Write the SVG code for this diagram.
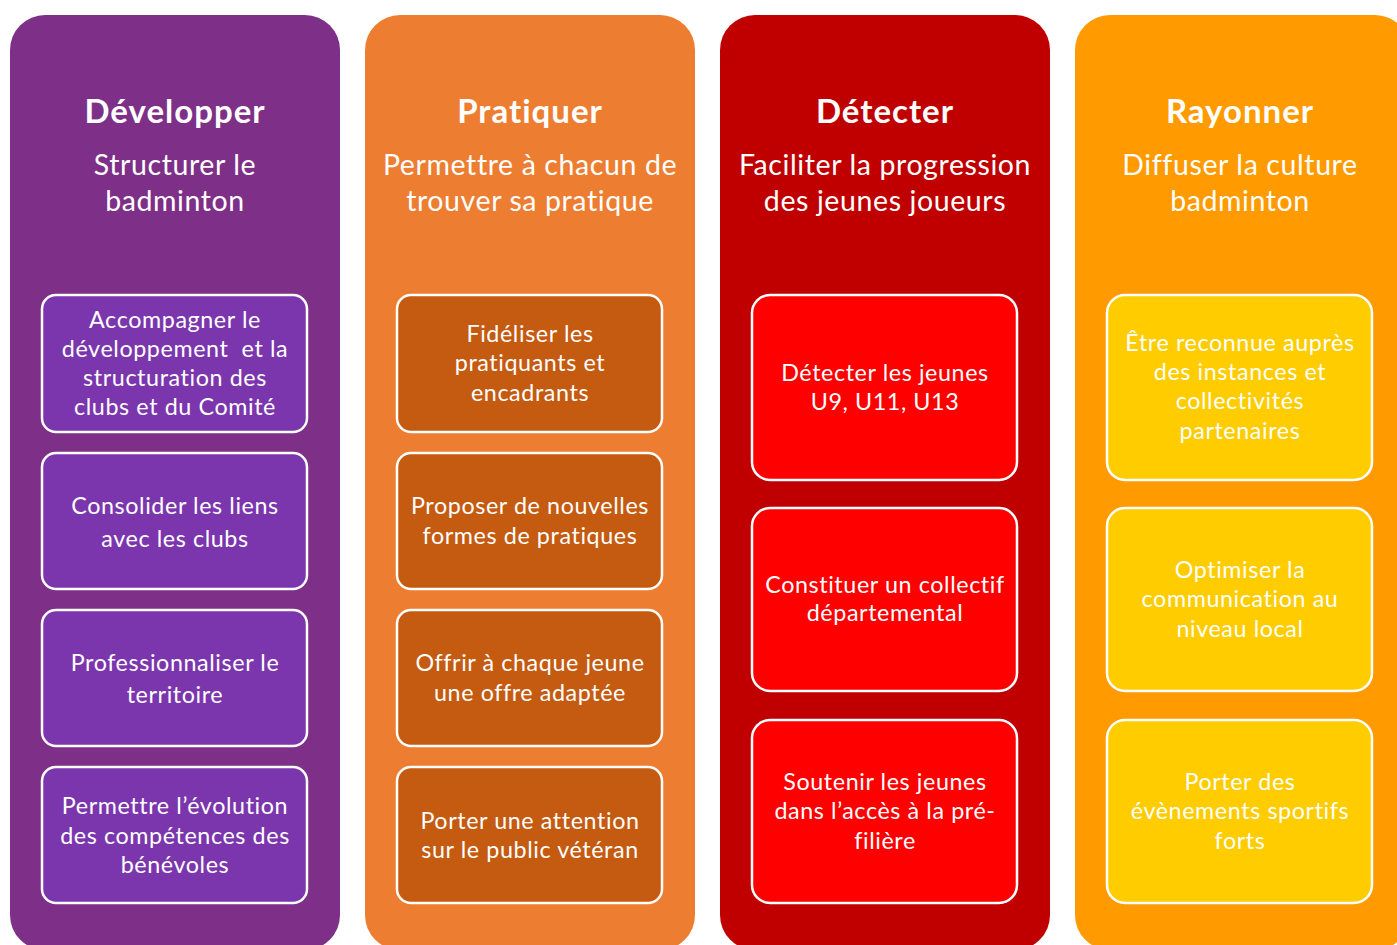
<svg xmlns="http://www.w3.org/2000/svg" width="1397" height="945" viewBox="0 0 1397 945">
<style>
text{font-family:Lato,"Open Sans","Liberation Sans",sans-serif;fill:#fff;text-anchor:middle}
.t{font-size:33px;font-weight:bold;letter-spacing:1px}
.s{font-size:28.5px;letter-spacing:0.6px}
.b{font-size:23.3px;letter-spacing:0.6px}
.box{stroke:#fff;stroke-width:2.5}
</style>
<rect width="1397" height="945" fill="#fff"/>
<g id="col-developper">
<rect x="10" y="15" width="330" height="935" rx="35" fill="#7E2F87"/>
<text class="t" x="175" y="123">Développer</text>
<text class="s" x="175" y="175">Structurer le</text>
<text class="s" x="175" y="211">badminton</text>
</g>
<g id="col-pratiquer">
<rect x="365" y="15" width="330" height="935" rx="35" fill="#ED7D31"/>
<text class="t" x="530" y="123">Pratiquer</text>
<text class="s" x="530" y="175">Permettre à chacun de</text>
<text class="s" x="530" y="211">trouver sa pratique</text>
</g>
<g id="col-detecter">
<rect x="720" y="15" width="330" height="935" rx="35" fill="#C00000"/>
<text class="t" x="885" y="123">Détecter</text>
<text class="s" x="885" y="175">Faciliter la progression</text>
<text class="s" x="885" y="211">des jeunes joueurs</text>
</g>
<g id="col-rayonner">
<rect x="1075" y="15" width="335" height="935" rx="35" fill="#FF9A00"/>
<text class="t" x="1240" y="123">Rayonner</text>
<text class="s" x="1240" y="175">Diffuser la culture</text>
<text class="s" x="1240" y="211">badminton</text>
</g>
<g id="d1"><rect class="box" x="42" y="295" width="265" height="137" rx="14" fill="#7B36AE"/>
<text class="b" x="175" y="328">Accompagner le</text><text class="b" x="175" y="357">développement&#160; et la</text><text class="b" x="175" y="386">structuration des</text><text class="b" x="175" y="415">clubs et du Comité</text></g>
<g id="d2"><rect class="box" x="42" y="453" width="265" height="136" rx="14" fill="#7B36AE"/>
<text class="b" x="175" y="514">Consolider les liens</text><text class="b" x="175" y="547">avec les clubs</text></g>
<g id="d3"><rect class="box" x="42" y="610" width="265" height="136" rx="14" fill="#7B36AE"/>
<text class="b" x="175" y="671">Professionnaliser le</text><text class="b" x="175" y="703">territoire</text></g>
<g id="d4"><rect class="box" x="42" y="767" width="265" height="136" rx="14" fill="#7B36AE"/>
<text class="b" x="175" y="814">Permettre l’évolution</text><text class="b" x="175" y="844">des compétences des</text><text class="b" x="175" y="873">bénévoles</text></g>
<g id="p1"><rect class="box" x="397" y="295" width="265" height="137" rx="14" fill="#C55A11"/>
<text class="b" x="530" y="342">Fidéliser les</text><text class="b" x="530" y="371">pratiquants et</text><text class="b" x="530" y="401">encadrants</text></g>
<g id="p2"><rect class="box" x="397" y="453" width="265" height="136" rx="14" fill="#C55A11"/>
<text class="b" x="530" y="514">Proposer de nouvelles</text><text class="b" x="530" y="544">formes de pratiques</text></g>
<g id="p3"><rect class="box" x="397" y="610" width="265" height="136" rx="14" fill="#C55A11"/>
<text class="b" x="530" y="671">Offrir à chaque jeune</text><text class="b" x="530" y="701">une offre adaptée</text></g>
<g id="p4"><rect class="box" x="397" y="767" width="265" height="136" rx="14" fill="#C55A11"/>
<text class="b" x="530" y="829">Porter une attention</text><text class="b" x="530" y="858">sur le public vétéran</text></g>
<g id="t1"><rect class="box" x="752" y="295" width="265" height="185" rx="18" fill="#FF0000"/>
<text class="b" x="885" y="381">Détecter les jeunes</text><text class="b" x="885" y="410">U9, U11, U13</text></g>
<g id="t2"><rect class="box" x="752" y="508" width="265" height="183" rx="18" fill="#FF0000"/>
<text class="b" x="885" y="593">Constituer un collectif</text><text class="b" x="885" y="621">départemental</text></g>
<g id="t3"><rect class="box" x="752" y="720" width="265" height="183" rx="18" fill="#FF0000"/>
<text class="b" x="885" y="790">Soutenir les jeunes</text><text class="b" x="885" y="819">dans l’accès à la pré-</text><text class="b" x="885" y="849">filière</text></g>
<g id="r1"><rect class="box" x="1107" y="295" width="265" height="185" rx="18" fill="#FFCC00"/>
<text class="b" x="1240" y="351">Être reconnue auprès</text><text class="b" x="1240" y="380">des instances et</text><text class="b" x="1240" y="409">collectivités</text><text class="b" x="1240" y="439">partenaires</text></g>
<g id="r2"><rect class="box" x="1107" y="508" width="265" height="183" rx="18" fill="#FFCC00"/>
<text class="b" x="1240" y="578">Optimiser la</text><text class="b" x="1240" y="607">communication au</text><text class="b" x="1240" y="637">niveau local</text></g>
<g id="r3"><rect class="box" x="1107" y="720" width="265" height="183" rx="18" fill="#FFCC00"/>
<text class="b" x="1240" y="790">Porter des</text><text class="b" x="1240" y="819">évènements sportifs</text><text class="b" x="1240" y="849">forts</text></g>
<g id="connectors"/>
</svg>
